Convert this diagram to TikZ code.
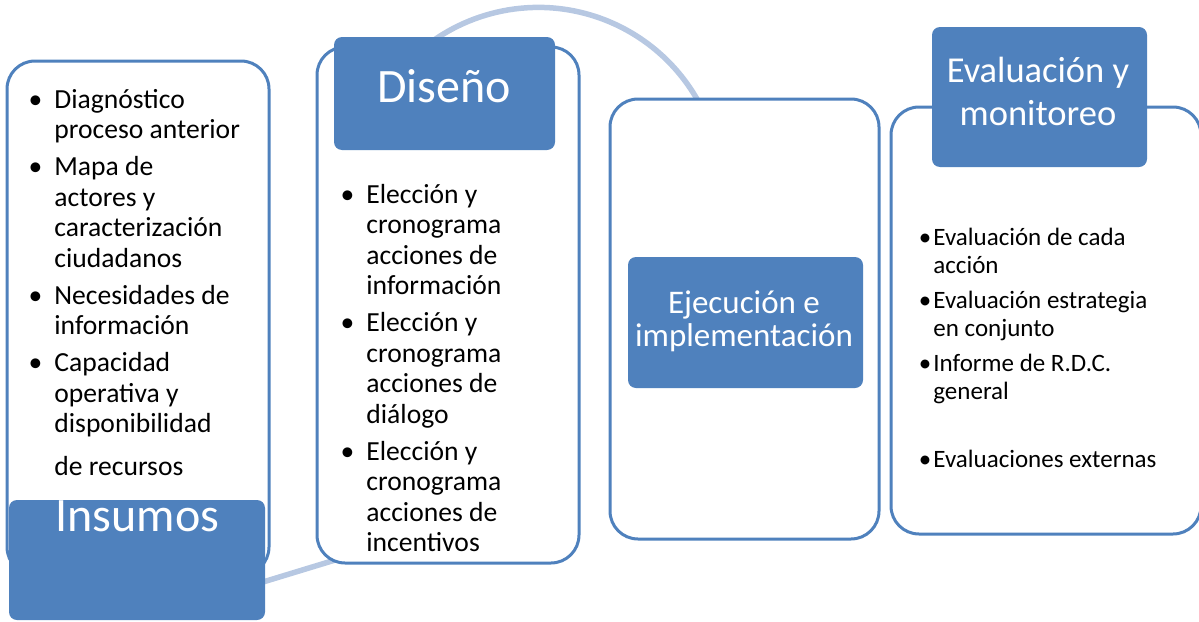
\documentclass[tikz,border=0pt]{standalone}
\usepackage{fontspec}
\setmainfont{Carlito}
\usetikzlibrary{positioning}
\definecolor{azul}{HTML}{4F81BD}
\definecolor{azulclaro}{HTML}{B7C8E2}
\newcommand{\bul}[1][6pt]{\llap{\textbullet\hspace{#1}}}

\begin{document}
\begin{tikzpicture}[x=0.5pt, y=-0.5pt,
  marco/.style={draw=azul, line width=1.5pt, fill=white, rounded corners=14pt, inner sep=0pt},
  etiq/.style={fill=azul, rounded corners=4pt, inner sep=0pt},
  etxt/.style={text=white, inner sep=0pt, align=center},
  lista/.style={inner sep=0pt, align=left, anchor=north west, font=\fontsize{13.8}{15.25}\selectfont},
  arco/.style={draw=azulclaro, line width=2.75pt}]
  \useasboundingbox (0,0) rectangle (1199,621);
  % arcos de fondo
  \coordinate (a0) at (409,61); \coordinate (b0) at (240,589); \coordinate (b1) at (345,557);
  \draw[arco] (a0) arc[start angle=225, end angle=332, radius=183];
  \draw[arco] (b0) -- (b1);
  % marcos
  \node[marco, minimum width=131pt, minimum height=257pt] (ins) at (138,318) {};
  \node[marco, minimum width=131pt, minimum height=258pt] (dis) at (448,305) {};
  \node[marco, minimum width=134.5pt, minimum height=220pt] (eje) at (744.5,319) {};
  \node[marco, minimum width=155pt, minimum height=213.5pt] (eva) at (1046,320.5) {};
  % etiquetas
  \node[etiq, minimum width=128pt, minimum height=60pt] (insT) at (137,560) {};
  \node[etiq, minimum width=110.5pt, minimum height=56.5pt] (disT) at (444.5,93.5) {};
  \node[etiq, minimum width=117.5pt, minimum height=65.5pt] (ejeT) at (745.5,322.5) {};
  \node[etiq, minimum width=107.5pt, minimum height=70pt] (evaT) at (1039.5,97) {};
  \node[etxt, font=\fontsize{24}{28}\selectfont, anchor=base] (insL) at (137.5,531) {Insumos};
  \node[etxt, font=\fontsize{24}{28}\selectfont, anchor=base] (disL) at (444,102) {Diseño};
  \node[etxt, font=\fontsize{16.5}{16.5}\selectfont, anchor=north] (ejeL) at (744,290) {\strut Ejecución e\\implementación};
  \node[etxt, font=\fontsize{18.25}{21.5}\selectfont, anchor=north] (evaL) at (1038,52) {\strut Evaluación y\\monitoreo};
  % listas
  \node[lista] (insI) at (54,86.6) {\strut\bul Diagnóstico\\proceso anterior\\[3.25pt]\bul Mapa de\\actores y\\caracterización\\ciudadanos\\[3.25pt]\bul Necesidades de\\información\\[3.25pt]\bul Capacidad\\operativa y\\disponibilidad\\[6.25pt]de recursos};
  \node[lista] (disI) at (366,181.6) {\strut\bul Elección y\\cronograma\\acciones de\\información\\[3.25pt]\bul Elección y\\cronograma\\acciones de\\diálogo\\[3.25pt]\bul Elección y\\cronograma\\acciones de\\incentivos};
  \node[lista, font=\fontsize{12.5}{14}\selectfont] (evaI) at (933,225.4) {\strut\bul[1pt]Evaluación de cada\\acción\\[3.5pt]\bul[1pt]Evaluación estrategia\\en conjunto\\[3.5pt]\bul[1pt]Informe de R.D.C.\\general\\[20pt]\bul[1pt]Evaluaciones externas};
\end{tikzpicture}
\end{document}
